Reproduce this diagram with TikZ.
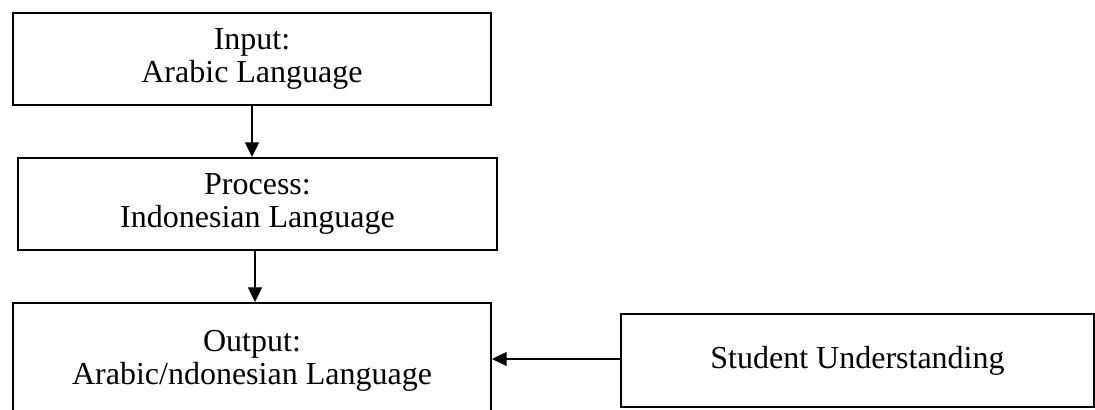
\documentclass[tikz,border=0pt]{standalone}
\usepackage{fontspec}
\setmainfont{Liberation Serif}
\usetikzlibrary{arrows.meta}
\tikzset{every node/.style={font=\fontsize{24}{25}\selectfont},
  flowbox/.style={draw=black,fill=white,line width=1.5pt,align=center,
    inner sep=0pt},
  link/.style={draw=black,line width=1pt,-{Triangle[length=11pt,width=10.5pt]}}}
\begin{document}
\begin{tikzpicture}[x=0.75pt,y=0.75pt]
  \clip (0,0) rectangle (1095,410);
  \node[flowbox,minimum width=478*0.75pt,minimum height=92*0.75pt] (input) at (252,351)
    {Input:\\Arabic Language};
  \node[flowbox,minimum width=479*0.75pt,minimum height=92*0.75pt] (process) at (257.5,206)
    {Process:\\Indonesian Language};
  \node[flowbox,minimum width=478*0.75pt,minimum height=116*0.75pt] (output) at (252,49)
    {Output:\\Arabic/ndonesian Language};
  \node[flowbox,minimum width=473*0.75pt,minimum height=93*0.75pt] (student) at (857.5,49.5)
    {Student Understanding};
  \draw[link] (input.south) -- (input.south |- process.north);
  \draw[link] ([xshift=-2.5*0.75pt]process.south) -- ([xshift=-2.5*0.75pt]process.south |- output.north);
  \draw[link] ([yshift=1.5*0.75pt]student.west) -- ([yshift=1.5*0.75pt]student.west -| output.east);
\end{tikzpicture}
\end{document}
